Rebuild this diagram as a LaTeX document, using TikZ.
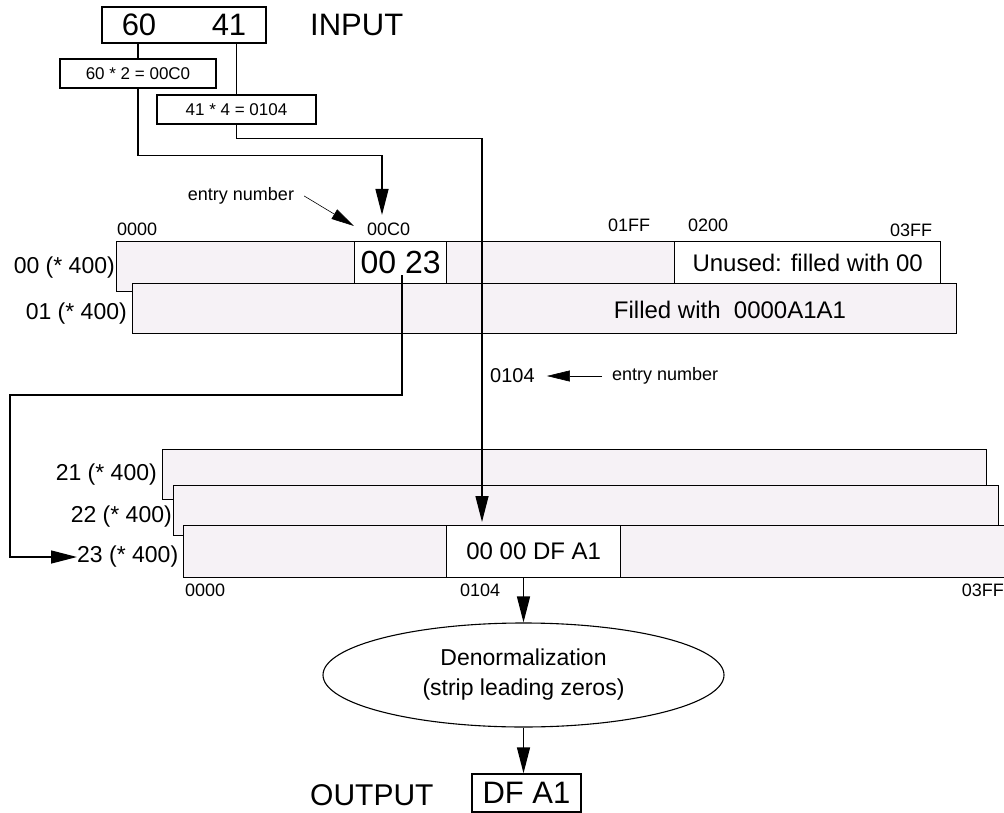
\documentclass[tikz,border=0pt]{standalone}
\usepackage{fontspec}
\setmainfont{Liberation Sans}
\usepackage{tikz}
\usetikzlibrary{shapes.geometric, arrows.meta, positioning, calc}
\usepackage{xcolor}
\definecolor{rowfill}{RGB}{246,242,246}
\newcommand{\fsz}[1]{\fontsize{#1}{#1}\selectfont}
\tikzstyle{memrow} = [rectangle, draw=black, line width=1.4pt, fill=rowfill, anchor=north west, inner sep=0pt, minimum width=824pt, minimum height=50pt]
\tikzstyle{memcell} = [rectangle, draw=black, line width=1.4pt, fill=white, anchor=north west, inner sep=0pt, font=\fsz{24}]
\tikzstyle{box} = [rectangle, draw=black, line width=1.4pt, inner sep=0pt]
\tikzstyle{link} = [line width=1.4pt]
\tikzstyle{arrow} = [line width=1.4pt, -{Triangle[length=26pt, width=13pt]}]
\tikzstyle{pointer} = [line width=0.6pt, -{Triangle[length=23pt, width=11pt]}]
\tikzstyle{addr} = [font=\fsz{18}, inner sep=0pt]
\tikzstyle{rowlbl} = [font=\fsz{23}, anchor=east, inner sep=0pt]

\begin{document}
\begin{tikzpicture}[x=1pt, y=-1pt]
  \useasboundingbox (0,0) rectangle (1004,813);

  \node[box, minimum width=164pt, minimum height=36pt] (inp) at (184,25) {};
  \node[font=\fsz{31}, inner sep=0pt] (v60) at (139,25) {60};
  \node[font=\fsz{31}, inner sep=0pt] (v41) at (229,25) {41};
  \node[font=\fsz{31}, anchor=west, inner sep=0pt] (inlbl) at (310,25) {INPUT};
  \node[box, minimum width=156pt, minimum height=29pt, font=\fsz{17}] (mul60) at (138,73.5) {60 * 2 = 00C0};
  \node[box, minimum width=159pt, minimum height=29pt, font=\fsz{17}] (mul41) at (236.5,109.5) {41 * 4 = 0104};

  \node[font=\fsz{18}, inner sep=2pt] (entry00C0) at (241,196) {entry number};
  \node[addr, anchor=west] (a0000) at (117,229) {0000};
  \node[addr, anchor=west] (a00C0) at (367,229) {00C0};
  \node[addr, anchor=west] (a01FF) at (608,225) {01FF};
  \node[addr, anchor=west] (a0200) at (688,225) {0200};
  \node[addr, anchor=west] (a03FF) at (890,230) {03FF};

  \node[memrow] (row00) at (116,241) {};
  \node[memcell, minimum width=92pt, minimum height=42pt, font=\fsz{32}] (c0023) at (354,241) {00 23};
  \node[memcell, minimum width=266pt, minimum height=42pt] (cunused) at (674,241) {Unused: filled with 00};
  \node[memrow] (row01) at (132,283) {};
  \node[font=\fsz{24}, inner sep=0pt] (fill01) at (730,310) {Filled with\ \ 0000A1A1};
  \node[rowlbl] (lbl00) at (115,268) {00 (* 400)};
  \node[rowlbl] (lbl01) at (127,314) {01 (* 400)};

  \node[font=\fsz{20}, anchor=west, inner sep=0pt] (lbl0104) at (490,376) {0104};
  \node[font=\fsz{18}, anchor=west, inner sep=0pt] (entry0104) at (612,376) {entry number};

  \node[memrow] (row21) at (162,449) {};
  \node[memrow, minimum width=825pt] (row22) at (173,485) {};
  \node[memrow, minimum width=827pt, minimum height=52pt] (row23) at (183,525) {};
  \node[memcell, minimum width=174pt, minimum height=52pt] (cdf) at (446,525) {00 00 DF A1};
  \node[rowlbl] (lbl21) at (157,475) {21 (* 400)};
  \node[rowlbl] (lbl22) at (172,517) {22 (* 400)};
  \node[rowlbl, anchor=west] (lbl23) at (77,557) {23 (* 400)};
  \node[addr, anchor=west] (b0000) at (185,590) {0000};
  \node[addr, anchor=west] (b0104) at (460,590) {0104};
  \node[addr, anchor=east] (b03FF) at (1004,590) {03FF};

  \node[ellipse, draw=black, line width=1.1pt, minimum width=401pt, minimum height=104pt, inner sep=0pt, align=center, font=\fontsize{23}{30}\selectfont] (denorm) at (523.5,675) {Denormalization\\(strip leading zeros)};
  \node[box, minimum width=109pt, minimum height=38pt, font=\fsz{31}] (outbox) at (526.5,793) {DF A1};
  \node[font=\fsz{30}, anchor=west, inner sep=0pt] (outlbl) at (310,795) {OUTPUT};

  \coordinate (tip00C0) at (382,215);
  \coordinate (tip0104) at (482,522);
  \coordinate (src23) at (402,275);
  \coordinate (bend23) at (10,395);
  \coordinate (pt00C0) at (354,226);

  \draw[link] (inp.south -| mul60) -- (mul60.north);
  \draw[link] (inp.south -| mul41) -- (mul41.north);
  \draw[arrow] (mul60.south) -- ++(0,67) -| (tip00C0);
  \draw[arrow] (mul41.south) -- ++(0,14) -| (tip0104);
  \draw[arrow] (src23) |- (bend23) |- (lbl23.west);
  \draw[pointer] ([xshift=8pt]entry00C0.east) -- (pt00C0);
  \draw[pointer] ([xshift=-10pt]entry0104.west) -- ([xshift=12pt]lbl0104.east);
  \draw[arrow] (row23.south -| denorm) -- (denorm.north);
  \draw[arrow] (denorm.south) -- (denorm.south |- outbox.north);
\end{tikzpicture}
\end{document}
